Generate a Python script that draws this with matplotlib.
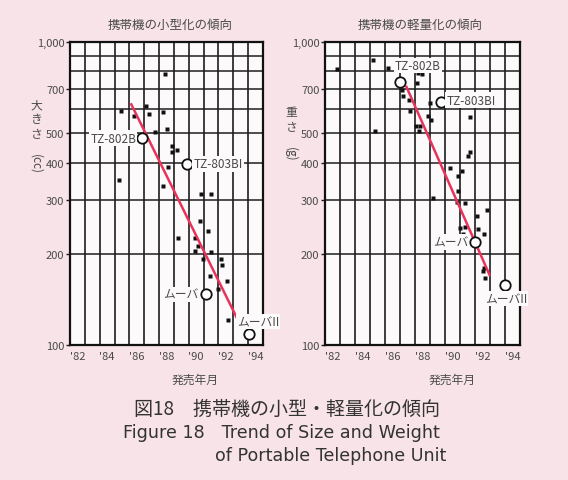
import matplotlib
matplotlib.use("Agg")
import matplotlib.pyplot as plt
from matplotlib.ticker import FixedLocator, NullFormatter, FixedFormatter

plt.rcParams['font.family'] = ['Noto Sans CJK JP', 'DejaVu Sans']

# ---------------- data ----------------
year_ticks = [1982, 1984, 1986, 1988, 1990, 1992, 1994]
year_tick_labels = ["'82", "'84", "'86", "'88", "'90", "'92", "'94"]
y_tick_values = [100, 200, 300, 400, 500, 700, 1000]
y_tick_labels = ["100", "200", "300", "400", "500", "700", "1,000"]

size_year = [1988.40, 1985.43, 1987.10, 1986.31, 1987.34, 1988.29, 1987.72, 1988.51,
             1988.85, 1989.18, 1988.85, 1988.62, 1985.32, 1988.29, 1990.82, 1991.50,
             1990.75, 1991.31, 1989.25, 1990.42, 1990.64, 1990.42, 1991.50, 1990.98,
             1992.15, 1992.26, 1991.43, 1992.59, 1991.99, 1992.66]
size_cc = [784, 593, 616, 571, 578, 586, 504, 516,
           455, 440, 432, 386, 350, 334, 315, 315,
           256, 237, 226, 226, 213, 205, 202, 192,
           192, 184, 169, 163, 153, 121]

size_named = ["TZ-802B", "TZ-803BI", "ムーバ", "ムーバII"]
size_named_year = [1986.87, 1989.90, 1991.13, 1994.05]
size_named_cc = [482, 396, 147, 109]
size_trend_year = [1986.09, 1993.27]
size_trend_cc = [628, 122]

weight_year = [1982.78, 1985.22, 1986.22, 1988.22, 1988.49, 1988.11, 1987.15, 1987.22,
               1987.60, 1987.67, 1989.00, 1988.89, 1989.07, 1988.05, 1988.33, 1988.27,
               1985.33, 1991.67, 1991.67, 1991.51, 1990.33, 1990.89, 1991.15, 1990.89,
               1989.18, 1990.78, 1991.35, 1992.78, 1992.11, 1991.00, 1991.35, 1992.22,
               1991.22, 1992.60, 1992.60, 1992.51, 1992.67]
weight_g = [814, 872, 819, 788, 784, 732, 695, 665,
            644, 591, 629, 568, 554, 527, 529, 508,
            509, 564, 435, 421, 383, 362, 375, 322,
            306, 296, 294, 279, 267, 243, 246, 241,
            232, 232, 180, 175, 167]

weight_named = ["TZ-802B", "TZ-803BI", "ムーバ", "ムーバII"]
weight_named_year = [1987.0, 1989.71, 1992.02, 1994.0]
weight_named_g = [740, 633, 219, 158]
weight_trend_year = [1987.4, 1993.0]
weight_trend_g = [717, 169]

# ---------------- styling ----------------
W, H = 568, 481
BG = "#f7e3e8"
AXBG = "#fcfafa"
TXT = "#4a4a4a"
GRID = "#1e1e1e"
RED = "#e8335c"

fig = plt.figure(figsize=(W / 100, H / 100), dpi=100, facecolor=BG)


def fx(px):
    return px / W


def fy(py):
    return 1 - py / H


def make_axes(left_px, right_px):
    ax = fig.add_axes([fx(left_px), fy(346), fx(right_px - left_px), (346 - 43) / H])
    ax.set_facecolor(AXBG)
    ax.set_yscale('log')
    ax.set_xlim(1982, 1995)
    ax.set_ylim(100, 1000)
    ax.xaxis.set_major_locator(FixedLocator(list(range(1982, 1996))))
    ax.xaxis.set_major_formatter(NullFormatter())
    ax.xaxis.set_minor_locator(FixedLocator([y + 0.5 for y in year_ticks]))
    ax.xaxis.set_minor_formatter(FixedFormatter(year_tick_labels))
    ax.tick_params(axis='x', which='both', length=0)
    ax.tick_params(axis='x', which='minor', labelsize=8, labelcolor=TXT, pad=4)
    ax.yaxis.set_major_locator(FixedLocator(y_tick_values))
    ax.yaxis.set_major_formatter(FixedFormatter(y_tick_labels))
    ax.yaxis.set_minor_locator(FixedLocator([600, 800, 900]))
    ax.yaxis.set_minor_formatter(NullFormatter())
    ax.tick_params(axis='y', which='major', length=3, width=1.0, color=GRID,
                   labelsize=8, labelcolor=TXT, pad=1)
    ax.tick_params(axis='y', which='minor', length=0)
    ax.grid(True, which='major', axis='x', color=GRID, lw=1.2)
    ax.grid(True, which='both', axis='y', color=GRID, lw=1.1)
    ax.set_axisbelow(True)
    for s in ax.spines.values():
        s.set_linewidth(1.6)
        s.set_color("#111111")
    return ax


axL = make_axes(70, 263)
axR = make_axes(325, 520)

box = dict(boxstyle='square,pad=0.1', fc=AXBG, ec='none')


def draw(ax, xs, ys, nx, ny, names, tx, ty, offsets):
    ax.plot(xs, ys, 's', ms=2.3, color='#111111', mec='none', zorder=3)
    ax.plot(tx, ty, '-', color=RED, lw=1.8, zorder=4, solid_capstyle='butt')
    ax.plot(nx, ny, 'o', ms=7.5, mfc='white', mec='#111111', mew=1.3, zorder=5)
    for name, x, y, (dx, dy, ha) in zip(names, nx, ny, offsets):
        ax.annotate(name, (x, y), xytext=(dx, dy), textcoords='offset pixels',
                    ha=ha, va='center', fontsize=8.5, color=TXT, bbox=box,
                    zorder=6, annotation_clip=False, clip_on=False)


draw(axL, size_year, size_cc, size_named_year, size_named_cc, size_named,
     size_trend_year, size_trend_cc,
     [(-6, 0, 'right'), (6, 0, 'left'), (-7, 0, 'right'), (-12, 12, 'left')])
draw(axR, weight_year, weight_g, weight_named_year, weight_named_g, weight_named,
     weight_trend_year, weight_trend_g,
     [(-5, 16, 'left'), (6, 2, 'left'), (-7, 0, 'right'), (-20, -14, 'left')])

# titles
fig.text(fx(170), fy(25), "携帯機の小型化の傾向", ha='center', va='center', fontsize=9, color=TXT)
fig.text(fx(420), fy(25), "携帯機の軽量化の傾向", ha='center', va='center', fontsize=9, color=TXT)

# y labels (vertical writing)
fig.text(fx(36), fy(120), "大\nき\nさ", ha='center', va='center', fontsize=8.5,
         color=TXT, linespacing=1.15)
fig.text(fx(36), fy(164), "(cc)", ha='center', va='center', fontsize=8.5,
         color=TXT, rotation=-90)
fig.text(fx(291), fy(120), "重\nさ", ha='center', va='center', fontsize=8.5,
         color=TXT, linespacing=1.15)
fig.text(fx(291), fy(154), "(g)", ha='center', va='center', fontsize=8.5,
         color=TXT, rotation=-90)

# x labels
fig.text(fx(195), fy(380), "発売年月", ha='center', va='center', fontsize=8.5, color=TXT)
fig.text(fx(452), fy(380), "発売年月", ha='center', va='center', fontsize=8.5, color=TXT)

# caption
fig.text(fx(287), fy(409), "図18　携帯機の小型・軽量化の傾向", ha='center', va='center',
         fontsize=13.7, color="#333333")
fig.text(fx(123), fy(433), "Figure 18   Trend of Size and Weight", ha='left', va='center',
         fontsize=12.6, color="#333333", fontfamily='DejaVu Sans')
fig.text(fx(215), fy(456), "of Portable Telephone Unit", ha='left', va='center',
         fontsize=12.6, color="#333333", fontfamily='DejaVu Sans')

fig.savefig("out.png", dpi=100, facecolor=BG)
